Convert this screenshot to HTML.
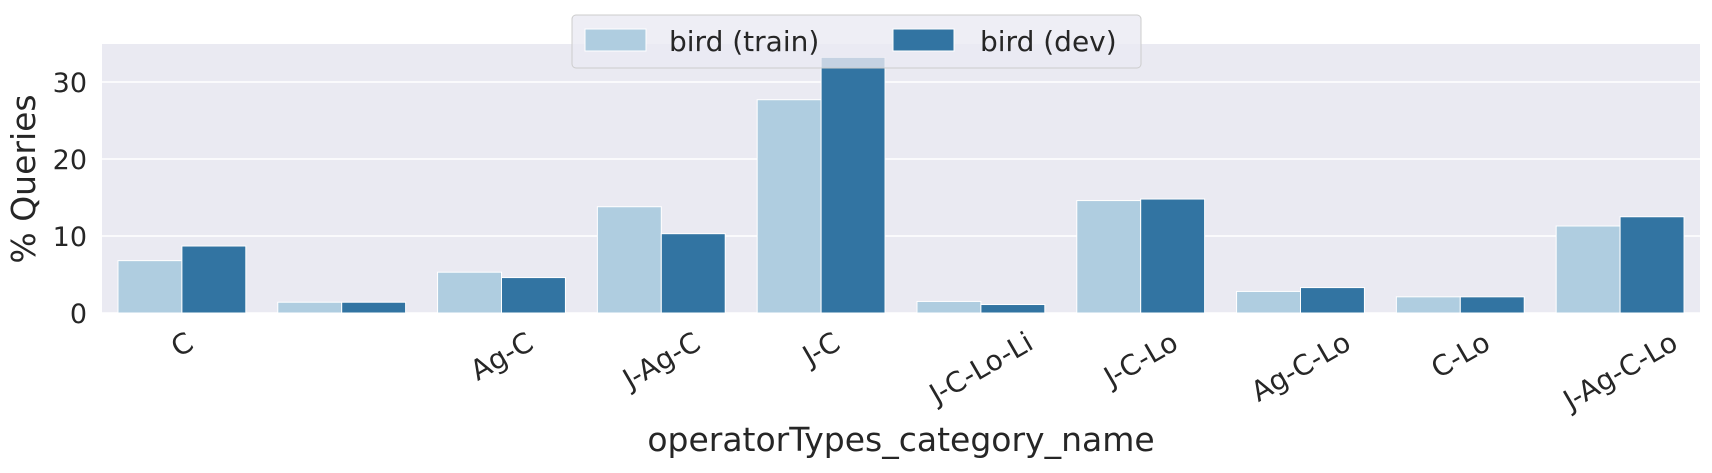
<!DOCTYPE html>
<html><head><meta charset="utf-8"><style>
body{margin:0;background:#fff;}
svg text{font-family:"DejaVu Sans","Liberation Sans",sans-serif;fill:#262626;}
</style></head><body>
<svg id="chart" width="1712" height="468">
<rect x="102" y="44" width="1598" height="269" fill="#eaeaf2"/>
<g id="grid"></g><g id="bars"></g><g id="xt"></g><g id="yt"></g>
<text x="901" y="451" font-size="33" text-anchor="middle">operatorTypes_category_name</text>
<text transform="translate(35,179) rotate(-90)" font-size="33" text-anchor="middle">% Queries</text>
<g>
<rect x="572" y="15" width="569" height="53" rx="4" fill="#eaeaf2" fill-opacity="0.8" stroke="#cccccc"/>
<rect x="585" y="29" width="61" height="22" fill="#afcde0" stroke="#fff"/>
<text x="669" y="51" font-size="28">bird (train)</text>
<rect x="893" y="29" width="61" height="22" fill="#3274a2" stroke="#fff"/>
<text x="980" y="51" font-size="28">bird (dev)</text>
</g>
</svg>
<script>
const categories=["C","","Ag-C","J-Ag-C","J-C","J-C-Lo-Li","J-C-Lo","Ag-C-Lo","C-Lo","J-Ag-C-Lo"];
const trainValues=[6.8,1.4,5.3,13.8,27.7,1.5,14.6,2.8,2.1,11.3];
const devValues=[8.7,1.4,4.6,10.3,33.2,1.1,14.8,3.3,2.1,12.5];
const yTicks=[0,10,20,30];
const NS="http://www.w3.org/2000/svg";
const X0=102,X1=1700,Y0=313,PER=7.7;
const band=(X1-X0)/categories.length;
const y=v=>Y0-v*PER;
const xc=i=>X0+band*(i+0.5);
function mk(t,a,p){const e=document.createElementNS(NS,t);for(const k in a)e.setAttribute(k,a[k]);p.appendChild(e);return e;}
const grid=document.getElementById('grid'),bars=document.getElementById('bars'),xt=document.getElementById('xt'),yt=document.getElementById('yt');
yTicks.forEach(v=>{
 const l=mk('line',{x1:X0,x2:X1,y1:y(v),y2:y(v),stroke:'#fff','stroke-width':1.6},grid);
 
 
 const t=mk('text',{x:87,y:y(v)+10,'font-size':27,'text-anchor':'end'},yt);
 t.textContent=v;
 
 
});
const bw=band*0.4;
categories.forEach((c,i)=>{
 const b1=mk('rect',{x:xc(i)-bw,y:y(trainValues[i]),width:bw,height:trainValues[i]*PER,fill:'#afcde0',stroke:'#fff','stroke-width':1},bars);
 
 
 const b2=mk('rect',{x:xc(i),y:y(devValues[i]),width:bw,height:devValues[i]*PER,fill:'#3274a2',stroke:'#fff','stroke-width':1},bars);
 
 
 if(c){
  const t=mk('text',{'font-size':28,'text-anchor':'middle'},xt);
  t.textContent=c;
  
  
  const w=t.getComputedTextLength(),h=26;
  const bh=w*0.5+h*0.866;
  const cy=328+bh/2;
  t.setAttribute('transform',`translate(${xc(i)},${cy}) rotate(-30) translate(0,10)`);
 }
});
</script>
</body></html>
